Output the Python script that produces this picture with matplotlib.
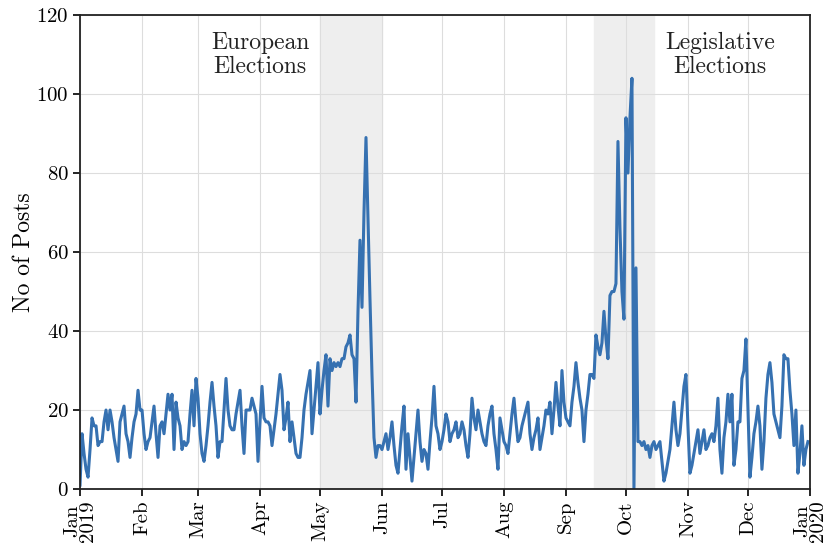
import pandas as pd
import matplotlib.pyplot as plt

plt.rcParams['font.family'] = 'serif'
plt.rcParams['font.serif'] = ['cmr10']
plt.rcParams['axes.formatter.use_mathtext'] = True

# daily number of posts, 1 Jan 2019 - 31 Dec 2019
jan = [1, 14, 9, 5, 3, 10, 18, 16, 16, 11, 12, 12, 17, 20, 15, 20, 17, 13, 10, 7,
       17, 19, 21, 14, 12, 8, 13, 17, 19, 25, 20]
feb = [20, 14, 10, 12, 13, 17, 21, 14, 8, 16, 17, 14, 19, 24, 20, 24, 10, 22, 18, 16,
       10, 12, 11, 12, 19, 25, 16, 28]
mar = [23, 14, 9, 7, 11, 16, 22, 27, 21, 16, 8, 12, 12, 20, 28, 20, 16, 15, 15, 19,
       22, 25, 16, 9, 20, 20, 20, 23, 21, 19, 7]
apr = [17, 26, 18, 17, 17, 16, 11, 15, 19, 24, 29, 25, 15, 18, 22, 12, 17, 13, 9, 8,
       8, 13, 20, 24, 27, 30, 14, 20, 26, 32]
may = [19, 25, 30, 34, 21, 33, 30, 32, 31, 32, 31, 33, 33, 36, 37, 39, 34, 33, 22, 45,
       63, 46, 70, 89, 68, 48, 29, 13, 8, 11, 11]
jun = [10, 12, 14, 10, 13, 17, 11, 6, 4, 10, 16, 21, 5, 14, 8, 2, 8, 14, 20, 12,
       7, 10, 9, 5, 12, 18, 26, 16, 14, 10]
jul = [12, 15, 19, 17, 12, 14, 15, 17, 13, 14, 17, 15, 11, 8, 14, 23, 18, 15, 20, 17,
       14, 12, 11, 16, 19, 21, 14, 10, 5, 18, 15]
aug = [12, 11, 9, 14, 19, 23, 17, 12, 13, 16, 18, 20, 22, 14, 10, 13, 15, 18, 10, 13,
       16, 20, 19, 22, 14, 20, 27, 21, 16, 30, 22]
sep = [18, 17, 16, 22, 26, 32, 27, 23, 20, 12, 20, 24, 29, 29, 28, 39, 36, 34, 37, 45,
       38, 33, 49, 50, 50, 52, 88, 66, 50, 43]
oct_ = [94, 80, 94, 104, 0, 56, 12, 12, 11, 12, 10, 11, 8, 11, 12, 10, 11, 12, 7, 2,
        4, 7, 10, 16, 22, 15, 11, 14, 20, 26, 29]
nov = [16, 4, 6, 9, 12, 15, 9, 12, 15, 10, 11, 13, 14, 12, 16, 23, 10, 4, 13, 17,
       24, 17, 24, 6, 10, 17, 17, 28, 30, 38]
dec = [20, 3, 8, 14, 17, 21, 16, 5, 12, 23, 29, 32, 27, 19, 17, 15, 13, 21, 34, 33,
       33, 25, 19, 11, 20, 4, 9, 16, 6, 10, 12]

posts = jan + feb + mar + apr + may + jun + jul + aug + sep + oct_ + nov + dec
dates = pd.date_range('2019-01-01', periods=len(posts), freq='D')

month_labels = ['Jan\n2019', 'Feb', 'Mar', 'Apr', 'May', 'Jun', 'Jul', 'Aug',
                'Sep', 'Oct', 'Nov', 'Dec', 'Jan\n2020']
elections = [('2019-05-01', '2019-06-01', 'European\nElections', '2019-04-01'),
             ('2019-09-15', '2019-10-15', 'Legislative\nElections', '2019-11-17')]

fig = plt.figure(figsize=(8.38, 5.53), dpi=100)
ax = fig.add_axes([0.0955, 0.1157, 0.871, 0.857])

for start, end, label, pos in elections:
    ax.axvspan(pd.Timestamp(start), pd.Timestamp(end), color='#eeeeee', zorder=0)
    ax.text(pd.Timestamp(pos), 110, label, ha='center', va='center',
            fontsize=17, color='#222222', linespacing=1.1)

ax.plot(dates, posts, color='#3671b1', linewidth=2.2)

ticks = pd.date_range('2019-01-01', '2020-01-01', freq='MS')
ax.set_xticks(ticks)
ax.set_xticklabels(month_labels, rotation=90, fontsize=15, linespacing=0.85)
ax.set_xlim(pd.Timestamp('2019-01-01'), pd.Timestamp('2020-01-01'))
ax.set_ylim(0, 120)
ax.set_yticks(range(0, 121, 20))
ax.tick_params(axis='y', labelsize=15)
ax.tick_params(length=5, width=1.2, pad=3)
ax.set_ylabel('No of Posts', fontsize=17, labelpad=1)
ax.grid(True, color='#dddddd', linewidth=0.8, zorder=0)
ax.set_axisbelow(True)
for s in ax.spines.values():
    s.set_linewidth(1.3)
    s.set_color('#222222')

fig.savefig('out.png', dpi=100)
